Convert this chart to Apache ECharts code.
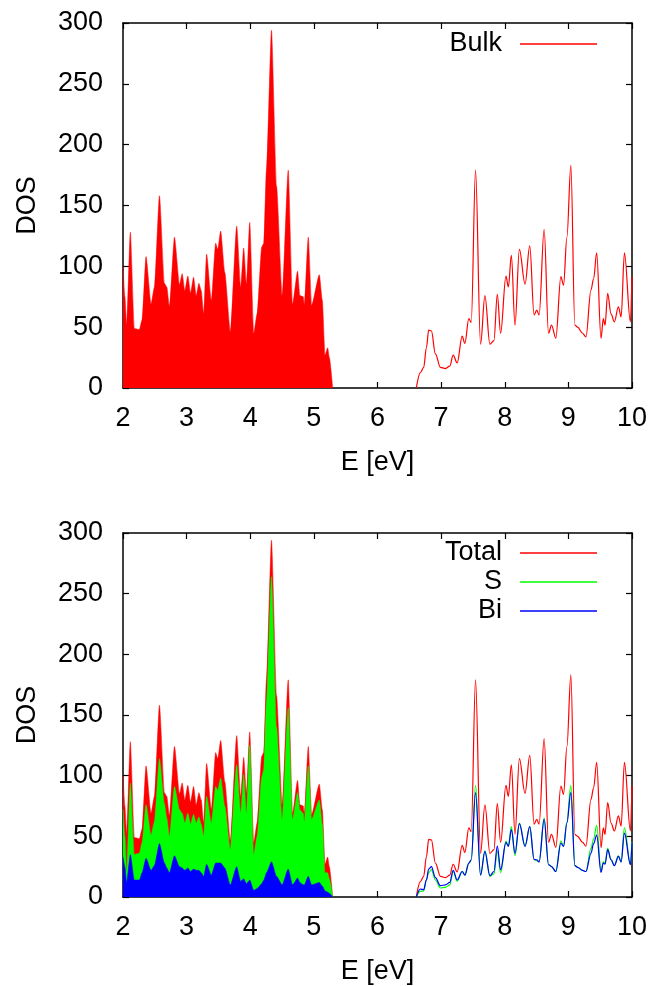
<!DOCTYPE html>
<html>
<head>
<meta charset="utf-8">
<script src="https://cdn.jsdelivr.net/npm/echarts@6/dist/echarts.min.js"></script>
<style>html,body{margin:0;padding:0;background:#fff}#c{width:656px;height:986px}</style>
</head>
<body>
<div id="c"></div>
<script>
// Energy grid (eV), occupied region 2 - 5.3 eV (filled)
var eLow = [2.0, 2.03, 2.057, 2.115, 2.178, 2.257, 2.30, 2.362, 2.441, 2.494, 2.573, 2.651, 2.688, 2.730, 2.809, 2.888, 2.930, 2.972, 3.019, 3.062, 3.109, 3.151, 3.193, 3.23, 3.267, 3.314, 3.388, 3.456, 3.49, 3.535, 3.60, 3.687, 3.787, 3.850, 3.897, 3.940, 3.992, 4.055, 4.108, 4.181, 4.213, 4.255, 4.334, 4.413, 4.502, 4.597, 4.665, 4.744, 4.78, 4.833, 4.85, 4.912, 4.965, 5.086, 5.133, 5.175, 5.217, 5.243, 5.296];
var totalLow = [100, 75, 52, 128, 49, 48, 56, 108, 69, 83, 158, 86, 83, 67, 124, 85, 94, 80, 92, 78, 91, 76, 86, 80, 61, 110, 72, 119, 114, 129, 95, 46, 133, 83, 115, 85, 136, 45, 61, 116, 119, 180, 294, 166, 76, 179, 69, 96, 76, 75, 68, 124, 68, 93, 72, 27, 33, 25, 0];
var sLow = [72, 50, 20, 94, 35, 36, 45, 76, 51, 62, 114, 77, 65, 50, 91, 72, 69, 61, 69, 60, 68, 61, 66, 60, 50, 83, 61, 91, 88, 98, 75, 39, 109, 69, 101, 68, 125, 35, 50, 99, 105, 160, 264, 140, 64, 156, 64, 86, 72, 69, 62, 108, 64, 80, 60, 20, 20, 15, 0];
var biLow = [33, 25, 12, 35, 14, 14, 20, 32, 22, 26, 44, 28, 24, 20, 34, 25, 24, 22, 24, 21, 23, 22, 22, 20, 17, 27, 18, 28, 28, 28, 24, 10, 25, 13, 15, 11, 14, 5.5, 7, 11, 14, 20, 29, 17, 10, 23, 10, 15.6, 12, 10, 10, 17, 10, 12, 9, 5, 4, 3, 0];

// Energy grid (eV), unoccupied region 6.6 - 10 eV (lines)
var eHigh = [6.61, 6.674, 6.726, 6.768, 6.805, 6.847, 6.91, 6.989, 7.068, 7.136, 7.189, 7.252, 7.331, 7.373, 7.435, 7.473, 7.541, 7.62, 7.688, 7.767, 7.83, 7.883, 7.935, 8.019, 8.057, 8.104, 8.161, 8.23, 8.319, 8.393, 8.461, 8.503, 8.54, 8.619, 8.688, 8.735, 8.803, 8.882, 8.924, 8.977, 9.039, 9.102, 9.145, 9.224, 9.276, 9.355, 9.397, 9.445, 9.513, 9.549, 9.576, 9.618, 9.67, 9.723, 9.786, 9.829, 9.881, 9.975, 10.0];
var totalHigh = [0, 12.7, 17, 33, 47.5, 47, 28, 17, 16, 18, 27, 20.6, 42.6, 36.6, 57, 54, 179, 36, 76, 36, 39, 77, 45, 92, 83, 109, 51.6, 114, 85.4, 116.8, 60, 64, 60, 130.5, 45, 51.6, 41, 91.5, 84.6, 124, 183, 51.6, 50, 45, 42, 80.5, 90, 111, 40.7, 57, 51.6, 77.8, 61, 54.4, 66.8, 58.5, 111, 54.4, 91.5];
var sHigh = [0, 4.6, 5, 14, 20, 22.5, 14, 7.4, 8, 10, 21, 13, 21, 18, 28, 30, 92, 18, 38, 17, 19, 38, 20, 46, 42, 58, 34, 61, 42, 58, 31, 30, 29, 65, 27, 25, 21, 46, 42, 62, 92, 26, 24.4, 22, 21, 40, 48, 59, 21, 29, 28, 40, 31, 26, 34, 29, 57, 27, 45];
var biHigh = [0, 6.6, 6, 14, 23, 25, 16, 9.3, 10, 12, 22, 14, 21, 18, 28, 30.7, 86, 18, 37.6, 17.5, 21, 42, 22.5, 45, 41.7, 55.5, 36, 60.4, 41.7, 58, 31, 30.7, 29, 64, 26.6, 25, 21, 44.5, 41.7, 61, 86, 25.8, 24.4, 22, 21, 36, 44, 51, 20.3, 28, 27, 39, 30.7, 25.8, 33.5, 29, 52.7, 26.6, 44.5];

var xMin = 2, xMax = 10, xStep = 1;
var yMin = 0, yMax = 300, yStep = 50;
var xName = 'E [eV]', yName = 'DOS';

var RED = '#ff0000', GREEN = '#00ff00', BLUE = '#0000ff';
var FONT = 'Liberation Sans, Arial, sans-serif';
var FS = 27;

function pairs(xs, ys) { return xs.map(function (x, i) { return [x, ys[i]]; }); }

function xAx(grid, top) {
  return {
    type: 'value', gridIndex: grid, min: xMin, max: xMax, interval: xStep,
    position: top ? 'top' : 'bottom',
    name: top ? '' : xName, nameLocation: 'middle', nameGap: 61,
    nameTextStyle: { color: '#000', fontSize: FS, fontFamily: FONT },
    axisLine: { onZero: false, lineStyle: { color: '#000', width: 1.5 } },
    axisTick: { inside: true, length: 6, lineStyle: { color: '#000', width: 1.2 } },
    axisLabel: { show: !top, color: '#000', fontSize: FS, fontFamily: FONT, margin: 17 },
    splitLine: { show: false }
  };
}
function yAx(grid, right) {
  return {
    type: 'value', gridIndex: grid, min: yMin, max: yMax, interval: yStep,
    position: right ? 'right' : 'left',
    name: right ? '' : yName, nameLocation: 'middle', nameGap: 82, nameRotate: 90,
    nameTextStyle: { color: '#000', fontSize: FS, fontFamily: FONT },
    axisLine: { show: true, onZero: false, lineStyle: { color: '#000', width: 1.5 } },
    axisTick: { show: true, inside: true, length: 6, lineStyle: { color: '#000', width: 1.2 } },
    axisLabel: { show: !right, color: '#000', fontSize: FS, fontFamily: FONT, margin: 20 },
    splitLine: { show: false }
  };
}
function area(name, grid, xs, ys, color, z) {
  return {
    name: name, type: 'line', xAxisIndex: grid * 2, yAxisIndex: grid * 2,
    data: pairs(xs, ys), showSymbol: false, symbol: 'none', z: z,
    smooth: 0.2, smoothMonotone: 'x',
    itemStyle: { color: color },
    lineStyle: { color: color, width: 0.5 },
    areaStyle: { color: color, opacity: 1 },
    animation: false
  };
}
function line(name, grid, xs, ys, color, z) {
  return {
    name: name, type: 'line', xAxisIndex: grid * 2, yAxisIndex: grid * 2,
    data: pairs(xs, ys), showSymbol: false, symbol: 'none', z: z,
    smooth: 0.35, smoothMonotone: 'x',
    itemStyle: { color: color },
    lineStyle: { color: color, width: 1.2 },
    animation: false
  };
}
function leg(name, color, top) {
  return {
    data: [{ name: name, icon: 'rect', itemStyle: { color: color } }],
    right: 59, top: top, padding: 0, align: 'right', orient: 'vertical',
    itemWidth: 77, itemHeight: 1.5, selectedMode: false,
    textStyle: { color: '#000', fontSize: FS, fontFamily: FONT, lineHeight: 30, padding: [0, 13, 0, 0] }
  };
}

var chart = echarts.init(document.getElementById('c'), null, { renderer: 'canvas' });
chart.setOption({
  animation: false,
  backgroundColor: '#fff',
  grid: [
    { left: 123, right: 24, top: 23, height: 365 },
    { left: 123, right: 24, top: 533, height: 364 }
  ],
  xAxis: [xAx(0, false), xAx(0, true), xAx(1, false), xAx(1, true)],
  yAxis: [yAx(0, false), yAx(0, true), yAx(1, false), yAx(1, true)],
  legend: [
    leg('Bulk', RED, 29),
    leg('Total', RED, 538),
    leg('S', GREEN, 567),
    leg('Bi', BLUE, 596)
  ],
  series: [
    area('Bulk', 0, eLow, totalLow, RED, 2),
    line('Bulk', 0, eHigh, totalHigh, RED, 2),
    area('Total', 1, eLow, totalLow, RED, 2),
    area('S', 1, eLow, sLow, GREEN, 3),
    area('Bi', 1, eLow, biLow, BLUE, 4),
    line('Total', 1, eHigh, totalHigh, RED, 2),
    line('S', 1, eHigh, sHigh, GREEN, 3),
    line('Bi', 1, eHigh, biHigh, BLUE, 4)
  ]
});
</script>
</body>
</html>
